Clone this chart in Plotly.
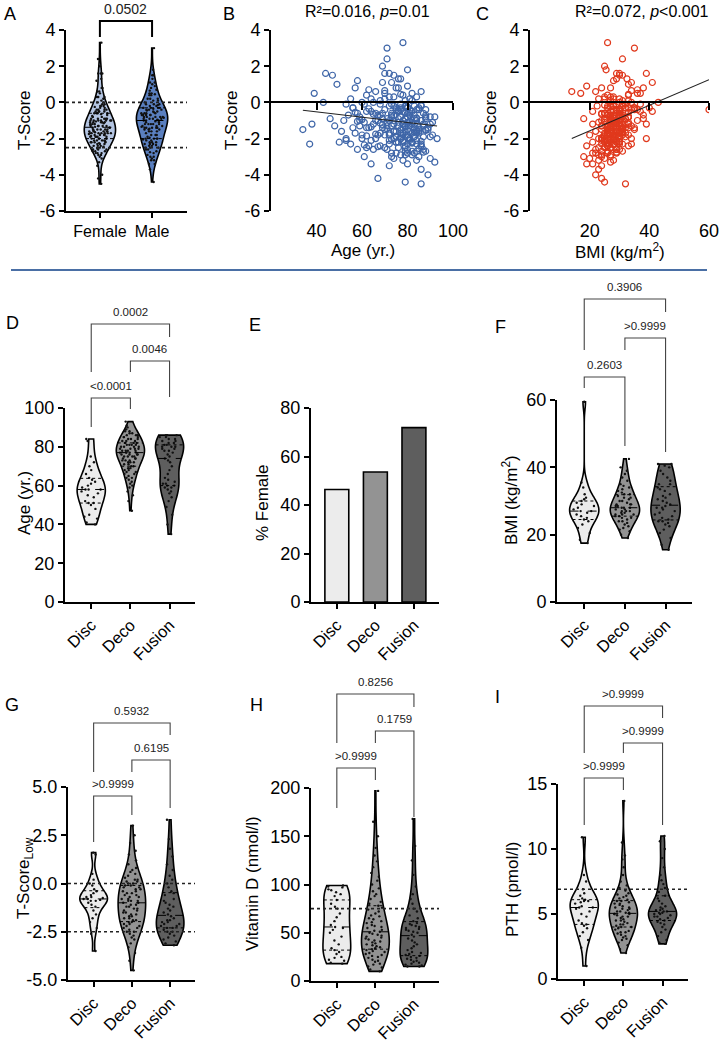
import numpy as np
import plotly.graph_objects as go

# ======================= DATA =======================
# Panels A-C: one row per patient (T-score, age, BMI, sex 1=female 0=male)
TSCORE = [3.3, 3.0, 2.4, 2.0, 1.8, 1.6, 1.5, 1.6, 1.3, 1.2,
          1.0, 1.1, 1.6, 1.5, 1.3, 0.9, 0.6, 0.5, 0.8, 0.7,
          0.6, 0.8, 0.5, 0.4, 0.3, 0.2, 0.1, 0.2, 0.0, -0.4,
          0.3, 0.1, -0.1, -0.2, 0.0, -0.3, -0.2, -0.1, 0.2, -0.3,
          -0.5, -0.6, -0.4, -0.7, -0.5, -0.8, -0.6, -0.9, -0.7, -0.8,
          -1.0, -0.9, -1.1, -1.2, -1.0, -1.1, -1.3, -1.2, -1.4, -1.5,
          -1.3, -1.4, -1.6, -1.5, -1.7, -1.6, -1.8, -1.7, -1.9, -1.8,
          -2.0, -2.1, -2.0, -2.2, -2.1, -2.3, -2.2, -2.4, -2.3, -2.5,
          -2.4, -2.6, -2.5, -2.7, -2.6, -2.8, -2.7, -2.9, -3.0, -3.0,
          -3.1, -3.2, -3.3, -3.4, -3.5, -3.7, -4.0, -4.2, -4.4, -4.5,
          -0.2, -0.5, -0.8, -1.1, -1.4, -1.7, -2.0, -2.3, -0.3, -0.6,
          -0.9, -1.2, -1.5, -1.8, -2.1, -2.4, 0.1, -0.4, -0.7, -1.0,
          -1.3, -1.6, -1.9, -2.2, -0.1, -0.6, -0.9, -1.2, -1.5, -1.8,
          -2.1, -2.6, 0.4, -0.3, -1.0, -1.3, -1.6, -1.9, -2.2, -2.8,
          0.0, -0.5, -0.8, -1.1, -1.4, -1.7, -2.0, -2.5, -0.2, -0.7,
          -1.0, -1.3, -1.6, -1.9, -2.3, -2.7, 0.3, -0.4, -0.8, -1.1,
          -1.4, -1.7, -2.0, -2.4, -0.1, -0.6, -0.9, -1.2, -1.5, -1.8,
          -2.1, -2.9, 0.2, -0.3, -0.7, -1.0, -1.3, -1.6, -2.0, -2.3,
          -0.4, -0.9, -1.2, -1.5, -1.8, -2.6, -3.1, -2.8, -0.5, -1.0,
          -1.4, -2.0, -0.7, -1.2, -0.3, -0.9, -1.3, -1.7, -2.2, -0.6,
          -1.05, -1.35, -1.65, -1.95, -2.25, -0.45, -0.75, -0.15, 0.45, -2.55,
          -1.15, -1.45, -1.75, -2.05, -0.35, -0.65, -0.95, -1.25, -2.45, 0.65,
          -0.85, -1.55, -2.15, -2.75, -0.25, -1.05, -1.85, -2.35, -0.55, -1.35,
          -1.6, -2.0, -0.9, -1.2, -0.4, -2.8, -3.2, -1.0, -0.2, 0.5,
          -1.7, -2.2, -0.6, -1.4, -1.9, -2.4, -0.8, -1.1, -1.5, -2.6,
          -0.3, -1.3, -2.1, -1.0, -0.7, -1.8, -2.3, -0.5, -1.2, -1.6,
          -2.9, -3.4, -0.1, 0.8, 1.1, -1.9, -2.7, -0.9, -1.4, -2.0,
          -0.6, -1.1, -1.7, -2.5, -0.4, -1.0, -1.5, -2.2, -3.0, -0.8]
AGE = [78, 71, 71, 69, 80, 44, 47, 72, 77, 58,
       49, 73, 70, 74, 76, 80, 86, 39, 57, 63,
       66, 76, 82, 62, 84, 55, 68, 81, 43, 88,
       74, 79, 61, 72, 65, 77, 83, 53, 70, 85,
       78, 58, 75, 81, 64, 92, 69, 46, 73, 80,
       59, 84, 76, 38, 67, 82, 71, 87, 62, 34,
       79, 56, 74, 85, 68, 81, 60, 77, 83, 72,
       66, 78, 93, 50, 84, 37, 75, 63, 80, 70,
       86, 58, 76, 82, 65, 73, 88, 79, 61, 85,
       74, 78, 92, 64, 72, 86, 89, 67, 79, 86,
       79, 82, 77, 80, 83, 78, 81, 84, 75, 73,
       76, 74, 77, 80, 72, 79, 82, 85, 83, 86,
       81, 84, 87, 82, 68, 66, 69, 65, 70, 67,
       64, 71, 78, 80, 78, 76, 79, 75, 78, 80,
       60, 62, 59, 61, 63, 57, 60, 62, 86, 88,
       84, 87, 85, 83, 86, 84, 72, 70, 73, 71,
       69, 72, 74, 68, 77, 81, 79, 82, 80, 78,
       81, 77, 64, 56, 54, 52, 48, 51, 53, 55,
       84, 88, 90, 89, 91, 87, 90, 75, 76, 74,
       78, 77, 67, 83, 80, 71, 73, 82, 76, 79,
       81, 79, 83, 80, 82, 76, 74, 86, 77, 85,
       68, 71, 66, 73, 63, 65, 60, 69, 67, 70,
       84, 88, 86, 87, 80, 58, 62, 61, 57, 64,
       75, 77, 79, 78, 81, 83, 84, 72, 74, 70,
       85, 82, 87, 89, 90, 86, 88, 91, 84, 80,
       56, 59, 53, 66, 68, 70, 72, 76, 78, 74,
       82, 80, 73, 75, 69, 77, 79, 83, 85, 81,
       80, 82, 84, 79, 77, 86, 88, 75, 73, 90]
BMI = [26, 35, 31, 25, 25.5, 29, 30, 30, 29, 28,
       33, 41, 39, 31, 32.5, 19, 14, 17, 27, 36,
       22, 24, 37, 26, 28, 23, 33, 30, 43, 60,
       25, 27, 29, 31, 34, 26, 22.5, 32, 28, 35,
       41, 24, 30, 27, 21, 33, 29, 18, 26, 31,
       25, 38, 28, 21, 30, 23, 27, 33, 26, 29,
       24, 31, 22, 35, 28, 27, 20, 32, 25, 29,
       23, 26, 39, 21, 27, 24, 30, 19, 28, 25,
       33, 22, 27, 24, 29, 21, 26, 23, 18, 27,
       20, 28, 27, 19, 24, 23, 22, 24, 25, 32,
       28, 30, 27, 29, 31, 26, 28, 30, 32, 25,
       28, 30, 27, 33, 29, 26, 31, 29, 26, 28,
       34, 27, 30, 25, 27, 30, 32, 29, 26, 31,
       28, 30, 33, 35, 24, 26, 29, 32, 27, 29,
       30, 27, 33, 25, 28, 30, 24, 27, 26, 31,
       29, 24, 30, 28, 26, 31, 27, 29, 31, 27,
       33, 25, 30, 26, 31, 32, 25, 27, 31, 28,
       24, 27, 25, 33, 28, 30, 26, 29, 27, 31,
       34, 27, 30, 26, 28, 29, 25, 22, 37, 36,
       35, 34, 38, 39, 40, 32, 27, 30, 29, 26,
       27, 29, 31, 24, 26, 28, 30, 25, 33, 27,
       29, 31, 26, 28, 30, 24, 27, 32, 25, 34,
       28, 26, 30, 29, 27, 31, 25, 28, 33, 26,
       29, 24, 27, 31, 35, 26, 23, 30, 28, 36,
       27, 29, 25, 31, 28, 26, 30, 33, 24, 29,
       32, 27, 25, 30, 28, 26, 34, 29, 27, 31,
       24, 21, 37, 38, 34, 28, 26, 30, 32, 27,
       25, 29, 31, 23, 36, 28, 26, 30, 24, 33]
SEX = [1, 0, 1, 1, 0, 1, 0, 1, 0, 1,
       0, 0, 1, 0, 1, 0, 1, 0, 1, 0,
       1, 0, 1, 0, 1, 0, 1, 0, 1, 0,
       1, 0, 1, 0, 1, 0, 1, 0, 1, 0,
       1, 0, 1, 0, 1, 0, 1, 0, 1, 0,
       1, 0, 1, 0, 1, 0, 1, 0, 1, 0,
       1, 0, 1, 0, 1, 0, 1, 0, 1, 0,
       1, 0, 1, 0, 1, 0, 1, 0, 1, 0,
       1, 0, 1, 0, 1, 0, 1, 0, 1, 0,
       1, 0, 1, 0, 1, 0, 1, 1, 0, 1,
       1, 1, 0, 1, 0, 1, 1, 0, 0, 1,
       1, 0, 1, 0, 1, 1, 0, 1, 0, 1,
       0, 1, 1, 0, 1, 0, 1, 0, 1, 1,
       0, 1, 0, 1, 0, 1, 1, 0, 1, 1,
       0, 1, 0, 1, 0, 1, 1, 0, 1, 0,
       1, 1, 0, 1, 0, 1, 1, 0, 1, 0,
       1, 1, 0, 1, 0, 1, 0, 1, 1, 0,
       1, 1, 0, 1, 0, 1, 0, 1, 0, 1,
       0, 1, 1, 0, 1, 1, 0, 1, 0, 1,
       0, 1, 0, 1, 0, 1, 0, 1, 1, 0,
       1, 0, 1, 0, 1, 0, 1, 0, 0, 1,
       1, 0, 1, 0, 0, 1, 0, 1, 1, 0,
       0, 1, 1, 0, 1, 0, 1, 0, 0, 1,
       1, 0, 1, 0, 1, 1, 0, 1, 0, 0,
       1, 0, 1, 0, 1, 0, 0, 1, 1, 0,
       0, 1, 1, 0, 0, 1, 1, 0, 1, 0,
       1, 0, 0, 1, 0, 1, 1, 0, 1, 0,
       0, 1, 1, 0, 1, 0, 1, 1, 0, 1]

SEX_LABELS = ["Female", "Male"]
P_A = "0.0502"
REG_AGE = (0.063, -0.0147)    # intercept, slope
REG_BMI = (-2.989, 0.0707)
STATS_B = "R²=0.016, <i>p</i>=0.01"
STATS_C = "R²=0.072, <i>p</i>&lt;0.001"

GROUPS = ["Disc", "Deco", "Fusion"]

AGE_DISC = [40, 41, 43, 44, 45, 48, 50, 51, 51, 52, 54, 55, 56, 57, 58, 58, 58, 59, 60, 61,
            62, 63, 64, 66, 68, 70, 72, 75, 83, 84]
AGE_DECO = [47, 52, 55, 57, 59, 60, 61, 62, 63, 64, 64, 65, 66, 66, 67, 67, 68, 68, 69, 69,
            70, 70, 71, 71, 72, 72, 72, 73, 73, 73, 74, 74, 74, 75, 75, 75, 75, 76, 76, 76,
            76, 77, 77, 77, 77, 77, 78, 78, 78, 78, 79, 79, 79, 79, 80, 80, 80, 80, 81, 81,
            81, 81, 82, 82, 82, 83, 83, 83, 84, 84, 84, 85, 85, 85, 86, 86, 86, 87, 87, 88,
            88, 89, 90, 91, 93]
AGE_FUSION = [35, 40, 45, 49, 52, 54, 56, 57, 58, 59, 59, 60, 60, 61, 61, 62, 63, 64, 66, 68,
              70, 72, 73, 74, 75, 76, 77, 78, 78, 79, 79, 80, 80, 80, 81, 81, 82, 82, 83, 83,
              84, 84, 85, 85, 86, 86, 86]
P_D = ["&lt;0.0001", "0.0046", "0.0002"]

FEMALE_PCT = [46.4, 53.6, 71.9]

BMI_DISC = [17.5, 18.5, 20.5, 22, 23, 24, 24.5, 25, 25.5, 26, 26.5, 27, 27, 27.5, 28, 28.5,
            29, 29.5, 30, 30.5, 31, 32, 34, 35.5, 59.5]
BMI_DECO = [19, 20, 21, 21.5, 22, 22.5, 23, 23.5, 24, 24, 24.5, 25, 25, 25.5, 25.5, 26, 26,
            26, 26.5, 26.5, 27, 27, 27, 27.5, 27.5, 28, 28, 28, 28.5, 28.5, 29, 29, 29, 29.5,
            30, 30, 30.5, 31, 31, 31.5, 32, 32, 32.5, 33, 33.5, 34, 34.5, 35, 36, 37, 38, 39,
            40, 42.5]
BMI_FUSION = [15.5, 17, 19, 20.5, 21.5, 22.5, 23, 23.5, 24, 24, 24.5, 25, 25.5, 26, 26.5, 27,
              27.5, 28, 28, 28.5, 29, 29.5, 30, 30.5, 31, 31.5, 32, 33, 33.5, 34, 35, 35, 36,
              37, 38, 39, 40, 40.5, 41, 41]
P_F = ["0.2603", "&gt;0.9999", "0.3906"]

TLOW_DISC = [-3.5, -2.6, -2.3, -2.0, -1.8, -1.6, -1.4, -1.2, -1.1, -1.0, -0.9, -0.9, -0.85,
             -0.8, -0.8, -0.75, -0.7, -0.7, -0.6, -0.5, -0.4, -0.3, -0.1, 0.0, 0.2, 0.5, 1.5, 1.6]
TLOW_DECO = [-4.5, -4.0, -3.6, -3.3, -3.1, -2.9, -2.8, -2.7, -2.6, -2.5, -2.5, -2.4, -2.3, -2.3,
             -2.2, -2.2, -2.1, -2.1, -2.0, -2.0, -1.9, -1.9, -1.8, -1.8, -1.7, -1.7, -1.6, -1.6,
             -1.5, -1.5, -1.4, -1.4, -1.3, -1.3, -1.2, -1.2, -1.1, -1.1, -1.0, -1.0, -0.9, -0.9,
             -0.9, -0.8, -0.8, -0.7, -0.7, -0.6, -0.6, -0.5, -0.5, -0.4, -0.4, -0.3, -0.3, -0.2,
             -0.2, -0.1, -0.1, 0.0, 0.0, 0.1, 0.1, 0.2, 0.2, 0.3, 0.4, 0.5, 0.6, 0.7, 0.8, 1.0,
             1.2, 1.5, 1.7, 2.1, 2.5, 3.0]
TLOW_FUSION = [-3.2, -3.1, -3.0, -2.9, -2.8, -2.7, -2.6, -2.5, -2.5, -2.4, -2.3, -2.3, -2.2,
               -2.2, -2.1, -2.1, -2.0, -2.0, -1.9, -1.9, -1.8, -1.7, -1.6, -1.5, -1.4, -1.3,
               -1.2, -1.1, -1.0, -0.9, -0.8, -0.6, -0.5, -0.4, -0.2, 0.0, 0.2, 0.4, 0.7, 1.0,
               1.4, 1.8, 2.3, 3.3]
P_G = ["&gt;0.9999", "0.6195", "0.5932"]

VITD_DISC = [18, 19, 21, 22, 24, 25, 28, 30, 32, 34, 38, 42, 46, 50, 53, 55, 56, 58, 62, 66,
             70, 75, 77, 80, 84, 88, 90, 92, 94, 95, 97, 98, 99]
VITD_DECO = [10, 12, 14, 15, 17, 18, 20, 21, 22, 24, 25, 26, 27, 28, 29, 30, 31, 32, 33, 34,
             35, 36, 37, 38, 39, 40, 41, 42, 43, 44, 45, 46, 47, 48, 49, 50, 51, 52, 53, 55,
             56, 57, 58, 60, 61, 62, 64, 65, 67, 68, 70, 72, 74, 76, 78, 80, 82, 85, 88, 90,
             93, 96, 100, 104, 108, 112, 118, 124, 130, 138, 150, 165, 197]
VITD_FUSION = [15, 15, 16, 17, 18, 19, 20, 21, 22, 23, 24, 25, 26, 27, 28, 29, 30, 32, 34, 36,
               38, 40, 42, 44, 46, 48, 50, 51, 52, 53, 54, 55, 56, 57, 58, 59, 60, 62, 65, 68,
               72, 75, 80, 85, 90, 98, 110, 125, 140, 168]
P_H = ["&gt;0.9999", "0.1759", "0.8256"]

PTH_DISC = [1.0, 2.4, 3.0, 3.3, 3.6, 3.9, 4.1, 4.2, 4.3, 4.5, 4.8, 5.0, 5.2, 5.4, 5.5, 5.5,
            5.6, 5.8, 5.9, 6.0, 6.0, 6.1, 6.2, 6.4, 6.6, 6.9, 7.5, 8.0, 10.9]
PTH_DECO = [2.0, 2.3, 2.6, 2.8, 3.0, 3.1, 3.2, 3.3, 3.4, 3.5, 3.6, 3.6, 3.7, 3.8, 3.9, 4.0,
            4.0, 4.1, 4.2, 4.2, 4.3, 4.4, 4.5, 4.5, 4.6, 4.7, 4.8, 4.8, 4.9, 5.0, 5.0, 5.0,
            5.1, 5.1, 5.2, 5.2, 5.3, 5.4, 5.4, 5.5, 5.5, 5.6, 5.7, 5.8, 5.8, 5.9, 6.0, 6.0,
            6.1, 6.2, 6.3, 6.4, 6.5, 6.6, 6.8, 7.0, 7.2, 7.5, 8.0, 8.6, 9.2, 9.5, 10.5, 13.7]
PTH_FUSION = [2.7, 2.8, 3.0, 3.3, 3.6, 3.8, 4.0, 4.2, 4.3, 4.4, 4.5, 4.6, 4.7, 4.8, 4.8, 4.9,
              5.0, 5.0, 5.1, 5.1, 5.2, 5.2, 5.3, 5.3, 5.4, 5.5, 5.6, 5.8, 6.0, 6.2, 6.4, 6.7,
              7.0, 7.3, 7.6, 8.0, 8.6, 9.3, 10.0, 10.6, 11.0]
P_I = ["&gt;0.9999", "&gt;0.9999", "&gt;0.9999"]

REF_TSCORE = [0, -2.5]
REF_VITD = [75]
REF_PTH = [6.9]

# ======================= STYLE / LAYOUT =======================
W, H = 720, 1043
FONT = "Arial, Liberation Sans, Helvetica, sans-serif"
SEX_COLORS = ["#b4c5e2", "#5a7fbf"]
GROUP_COLORS = ["#ececec", "#939393", "#5e5e5e"]
BLUE = "#3f66a8"
RED = "#e0391d"
PAIRS = [(0, 1), (1, 2), (0, 2)]
CAT_RANGE = [-0.67, 2.65]
TICK_SIZE = 18
CAT_SIZE = 16.5
TITLE_SIZE = 17


def fx(p):
    return p / W


def fy(p):
    return 1 - p / H


def tt(vals, fmt="{:g}"):
    return [fmt.format(v) for v in vals]


fig = go.Figure()
layout = dict(width=W, height=H, margin=dict(l=0, r=0, t=0, b=0, pad=0, autoexpand=False),
              paper_bgcolor="white", plot_bgcolor="white", showlegend=False,
              font=dict(family=FONT, color="black"))
shapes, annots = [], []


def k_of(n):
    return "" if n == 1 else str(n)


def setup_axes(n, box, xr, yr, yticks, ytext, xticks, xtext, xangle=0, xsize=CAT_SIZE,
               xline=True):
    l, r, t, b = box
    k = k_of(n)
    layout["xaxis" + k] = dict(domain=[fx(l), fx(r)], range=xr, type="linear", anchor="y" + k,
                               automargin=False, showline=xline, linewidth=2, linecolor="black",
                               ticks="outside", ticklen=5 if xline else 3, tickwidth=2,
                               tickcolor="black" if xline else "rgba(0,0,0,0)",
                               tickvals=xticks, ticktext=xtext,
                               tickangle=xangle, tickfont=dict(size=xsize), showgrid=False,
                               zeroline=False)
    layout["yaxis" + k] = dict(domain=[fy(b), fy(t)], range=yr, type="linear", anchor="x" + k,
                               automargin=False, showline=True, linewidth=2, linecolor="black",
                               ticks="outside", ticklen=5, tickwidth=2, tickcolor="black",
                               tickvals=yticks, ticktext=ytext, tickfont=dict(size=TICK_SIZE),
                               showgrid=False, zeroline=False)


def violin_kde(v, width):
    n = len(v)
    q1, q3 = np.percentile(v, [25, 75])
    sd = np.std(v, ddof=1)
    bw = 1.059 * min(sd, (q3 - q1) / 1.349) * n ** -0.2
    lo, hi = v.min(), v.max()
    m = int(np.ceil((hi - lo) / (bw / 3)))
    grid = np.linspace(lo, hi, m + 1)

    def dens(y):
        y = np.atleast_1d(y)
        return np.exp(-0.5 * ((y[:, None] - v[None, :]) / bw) ** 2).sum(1)

    dmax = dens(grid).max()
    return bw, (lambda y: 0.5 * width * dens(y) / dmax)


def add_violin(n, vals, pos, fill, width):
    k = k_of(n)
    v = np.asarray(vals, float)
    bw, hw = violin_kde(v, width)
    fig.add_trace(go.Violin(x0=pos, y=v, xaxis="x" + k, yaxis="y" + k, width=width,
                            scalemode="width", spanmode="hard", bandwidth=bw, fillcolor=fill,
                            line=dict(color="black", width=1.6), points="all", pointpos=0,
                            jitter=0.75, marker=dict(size=2.4, color="#111"),
                            box_visible=False, meanline_visible=False, hoverinfo="skip"))
    q1, med, q3 = np.percentile(v, [25, 50, 75])
    for q, dash in [(q1, "dot"), (med, "dash"), (q3, "dot")]:
        w = float(hw(q)[0])
        fig.add_trace(go.Scatter(x=[pos - w, pos + w], y=[q, q], mode="lines",
                                 line=dict(color="black", width=1, dash=dash),
                                 xaxis="x" + k, yaxis="y" + k, hoverinfo="skip"))


def ref_lines(n, vals):
    k = k_of(n)
    for v in vals:
        shapes.append(dict(type="line", xref="x" + k + " domain", x0=0, x1=1, yref="y" + k,
                           y0=v, y1=v, line=dict(color="#222", width=1.6, dash="dot")))


def bracket(n, i, j, text, top, lb, rb, lw=1.1, color="#444", size=11.5, off=12):
    k = k_of(n)
    shapes.append(dict(type="path", xref="x" + k, yref="paper",
                       path=f"M {i},{fy(lb)} L {i},{fy(top)} L {j},{fy(top)} L {j},{fy(rb)}",
                       line=dict(color=color, width=lw)))
    annots.append(dict(x=(i + j) / 2, xref="x" + k, y=fy(top - off), yref="paper", text=text,
                       showarrow=False, font=dict(size=size, color="#222"),
                       xanchor="center", yanchor="middle"))


def label(text, x, y, size=18, angle=0):
    annots.append(dict(x=fx(x), y=fy(y), xref="paper", yref="paper", text=text,
                       textangle=angle, showarrow=False, font=dict(size=size),
                       xanchor="center", yanchor="middle"))


def zero_axis(n_over, base, box, xr, yr, ticks):
    l, r, t, b = box
    y0 = t + (yr[1] - 0) / (yr[1] - yr[0]) * (b - t)
    layout["xaxis" + str(n_over)] = dict(overlaying="x" + str(base), anchor="free",
                                         position=fy(y0), range=xr, type="linear",
                                         automargin=False, showline=True, linewidth=2,
                                         linecolor="black", ticks="outside", ticklen=7,
                                         tickwidth=2, tickcolor="black", tickvals=ticks,
                                         showticklabels=False, showgrid=False, zeroline=False)
    fig.add_trace(go.Scatter(x=[xr[0]], y=[0], xaxis="x" + str(n_over), yaxis="y" + str(base),
                             mode="markers", marker=dict(opacity=0), hoverinfo="skip"))


TS_TICKS = [-6, -4, -2, 0, 2, 4]

# ---------- Panel A ----------
N = min(len(TSCORE), len(AGE), len(BMI), len(SEX))
ts = np.asarray(TSCORE[:N], float)
sx = np.asarray(SEX[:N])
ag = np.asarray(AGE[:N], float)
bm = np.asarray(BMI[:N], float)

BOX_A = (66, 187, 30, 211)
setup_axes(1, BOX_A, [-0.65, 1.67], [-6, 4], TS_TICKS, tt(TS_TICKS), [0, 1], SEX_LABELS, xsize=16)
ref_lines(1, REF_TSCORE)
add_violin(1, ts[sx == 1], 0, SEX_COLORS[0], 0.6)
add_violin(1, ts[sx == 0], 1, SEX_COLORS[1], 0.6)
bracket(1, 0, 1, P_A, 21, 37, 37, lw=2, color="black", size=14)
label("T-Score", 25, 120, TITLE_SIZE, -90)
label("A", 10, 14)

# ---------- Panel B ----------
BOX_B = (271, 453, 30, 211)
setup_axes(2, BOX_B, [20, 100], [-6, 4], TS_TICKS, tt(TS_TICKS), [40, 60, 80, 100],
           tt([40, 60, 80, 100]), xsize=TICK_SIZE, xline=False)
zero_axis(10, 2, BOX_B, [20, 100], [-6, 4], [40, 60, 80, 100])
fig.add_trace(go.Scatter(x=ag, y=ts, xaxis="x2", yaxis="y2", mode="markers",
                         marker=dict(symbol="circle-open", size=6, color=BLUE,
                                     line=dict(width=1.2, color=BLUE)), hoverinfo="skip"))
xa = np.array([ag.min(), ag.max()])
fig.add_trace(go.Scatter(x=xa, y=REG_AGE[0] + REG_AGE[1] * xa, xaxis="x2", yaxis="y2",
                         mode="lines", line=dict(color="#222", width=1.1), hoverinfo="skip"))
label("T-Score", 232, 120, TITLE_SIZE, -90)
label("Age (yr.)", 363, 250, TITLE_SIZE)
label(STATS_B, 367, 12, 16)
label("B", 229, 14)

# ---------- Panel C ----------
BOX_C = (530, 709, 30, 211)
setup_axes(3, BOX_C, [0, 60], [-6, 4], TS_TICKS, tt(TS_TICKS), [20, 40, 60],
           tt([20, 40, 60]), xsize=TICK_SIZE, xline=False)
zero_axis(11, 3, BOX_C, [0, 60], [-6, 4], [20, 40, 60])
fig.add_trace(go.Scatter(x=bm, y=ts, xaxis="x3", yaxis="y3", mode="markers",
                         marker=dict(symbol="circle-open", size=6, color=RED,
                                     line=dict(width=1.2, color=RED)), hoverinfo="skip"))
xb = np.array([bm.min(), bm.max()])
fig.add_trace(go.Scatter(x=xb, y=REG_BMI[0] + REG_BMI[1] * xb, xaxis="x3", yaxis="y3",
                         mode="lines", line=dict(color="#222", width=1.1), hoverinfo="skip"))
label("T-Score", 491, 120, TITLE_SIZE, -90)
label("BMI (kg/m<sup>2</sup>)", 620, 251, TITLE_SIZE)
label(STATS_C, 642, 12, 16)
label("C", 483, 14)

# separator
shapes.append(dict(type="line", xref="paper", yref="paper", x0=fx(11), x1=fx(707),
                   y0=fy(270), y1=fy(270), line=dict(color="#4a6fa5", width=2)))

# ---------- Panel D ----------
BOX_D = (65, 195, 408, 602)
yt = [0, 20, 40, 60, 80, 100]
setup_axes(4, BOX_D, CAT_RANGE, [0, 100], yt, tt(yt), [0, 1, 2], GROUPS, xangle=-45)
for g, vals in enumerate([AGE_DISC, AGE_DECO, AGE_FUSION]):
    add_violin(4, vals, g, GROUP_COLORS[g], 0.72)
for (i, j), p, geo in zip(PAIRS, P_D, [(398, 427, 409), (361, 372, 397), (324, 372, 337)]):
    bracket(4, i, j, p, *geo)
label("Age (yr.)", 25, 503, TITLE_SIZE, -90)
label("D", 12, 323)

# ---------- Panel E ----------
BOX_E = (311, 439, 408, 602)
yt = [0, 20, 40, 60, 80]
setup_axes(5, BOX_E, CAT_RANGE, [0, 80], yt, tt(yt), [0, 1, 2], GROUPS, xangle=-45)
fig.add_trace(go.Bar(x=[0, 1, 2], y=FEMALE_PCT, width=0.62, xaxis="x5", yaxis="y5",
                     marker=dict(color=GROUP_COLORS, line=dict(color="black", width=1.6)),
                     hoverinfo="skip"))
label("% Female", 263, 503, TITLE_SIZE, -90)
label("E", 255, 325)

# ---------- Panel F ----------
BOX_F = (557, 692, 400, 602)
yt = [0, 20, 40, 60]
setup_axes(6, BOX_F, CAT_RANGE, [0, 60], yt, tt(yt), [0, 1, 2], GROUPS, xangle=-45)
for g, vals in enumerate([BMI_DISC, BMI_DECO, BMI_FUSION]):
    add_violin(6, vals, g, GROUP_COLORS[g], 0.72)
for (i, j), p, geo in zip(PAIRS, P_F, [(377, 388, 446), (338, 350, 452), (299, 350, 312)]):
    bracket(6, i, j, p, *geo)
label("BMI (kg/m<sup>2</sup>)", 510, 500, TITLE_SIZE, -90)
label("F", 500, 327)

# ---------- Panel G ----------
BOX_G = (68, 195, 787, 980)
yt = [-5, -2.5, 0, 2.5, 5]
setup_axes(7, BOX_G, CAT_RANGE, [-5, 5], yt, tt(yt, "{:.1f}"), [0, 1, 2], GROUPS, xangle=-45)
ref_lines(7, REF_TSCORE)
for g, vals in enumerate([TLOW_DISC, TLOW_DECO, TLOW_FUSION]):
    add_violin(7, vals, g, GROUP_COLORS[g], 0.72)
for (i, j), p, geo in zip(PAIRS, P_G, [(796, 842, 815), (760, 772, 808), (723, 772, 735)]):
    bracket(7, i, j, p, *geo)
label("T-Score<sub>Low</sub>", 25, 878, TITLE_SIZE, -90)
label("G", 12, 705)

# ---------- Panel H ----------
BOX_H = (311, 439, 788, 981)
yt = [0, 50, 100, 150, 200]
setup_axes(8, BOX_H, CAT_RANGE, [0, 200], yt, tt(yt), [0, 1, 2], GROUPS, xangle=-45)
ref_lines(8, REF_VITD)
for g, vals in enumerate([VITD_DISC, VITD_DECO, VITD_FUSION]):
    add_violin(8, vals, g, GROUP_COLORS[g], 0.72)
for (i, j), p, geo in zip(PAIRS, P_H, [(768, 808, 780), (731, 743, 817), (694, 743, 707)]):
    bracket(8, i, j, p, *geo)
label("Vitamin D (nmol/l)", 252, 883, TITLE_SIZE, -90)
label("H", 256, 705)

# ---------- Panel I ----------
BOX_I = (558, 688, 784, 979)
yt = [0, 5, 10, 15]
setup_axes(9, BOX_I, CAT_RANGE, [0, 15], yt, tt(yt), [0, 1, 2], GROUPS, xangle=-45)
ref_lines(9, REF_PTH)
for g, vals in enumerate([PTH_DISC, PTH_DECO, PTH_FUSION]):
    add_violin(9, vals, g, GROUP_COLORS[g], 0.72)
for (i, j), p, geo in zip(PAIRS, P_I, [(778, 825, 790), (743, 753, 825), (706, 753, 718)]):
    bracket(9, i, j, p, *geo)
label("PTH (pmol/l)", 512, 890, TITLE_SIZE, -90)
label("I", 497, 697)

layout["shapes"] = shapes
layout["annotations"] = annots
layout["violinmode"] = "overlay"
fig.update_layout(**layout)
fig.write_html("out.html", config={"displayModeBar": False},
               post_script="document.body.style.margin='0';"
                           "document.body.style.overflow='hidden';")
